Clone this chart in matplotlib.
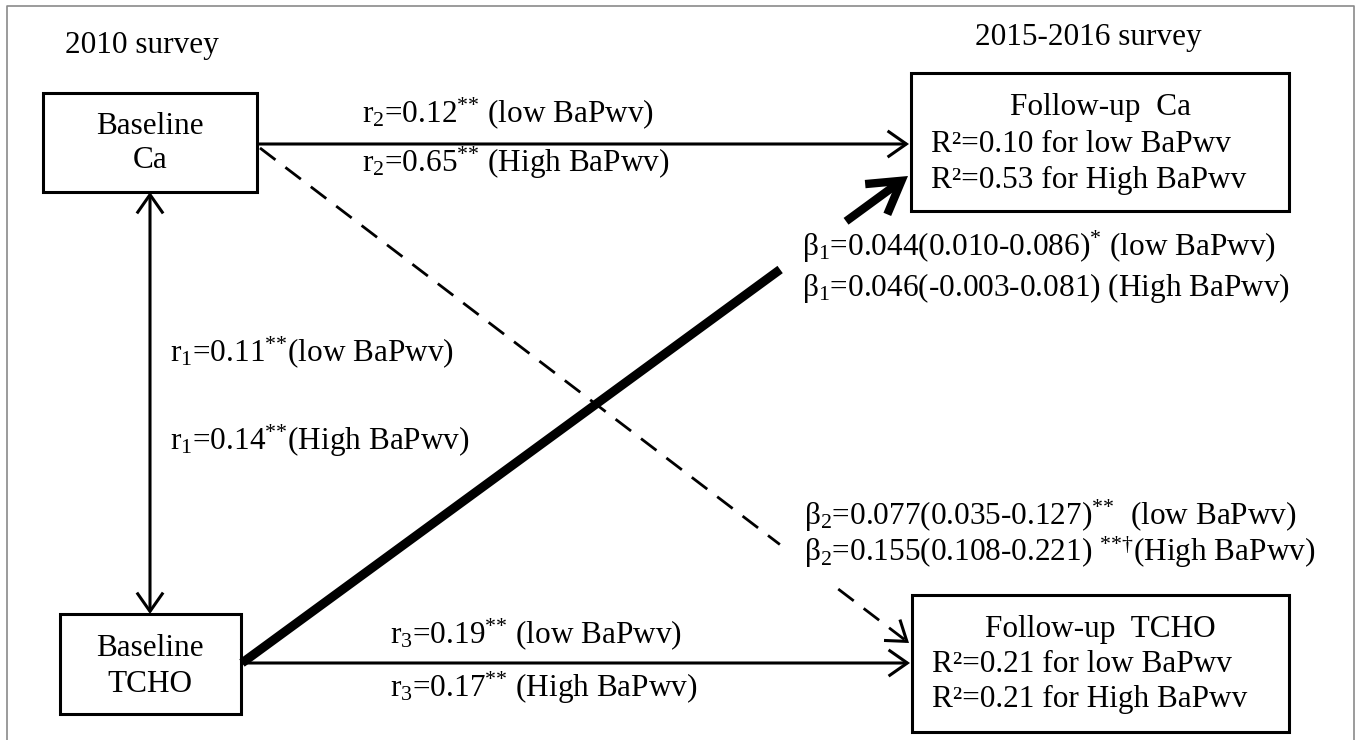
import matplotlib
matplotlib.use("Agg")
import matplotlib.pyplot as plt
from matplotlib.patches import Rectangle, FancyArrowPatch
import numpy as np

# ---- content ----
survey_labels = ["2010 survey", "2015-2016 survey"]
baseline_nodes = ["Baseline\nCa", "Baseline\nTCHO"]
followup_titles = ["Follow-up  Ca", "Follow-up  TCHO"]
followup_r2_low = ["0.10", "0.21"]
followup_r2_high = ["0.53", "0.21"]
r1_values = ["0.11", "0.14"]
r2_values = ["0.12", "0.65"]
r3_values = ["0.19", "0.17"]
beta1_values = ["0.044(0.010-0.086)", "0.046(-0.003-0.081)"]
beta1_sig = ["*", ""]
beta2_values = ["0.077(0.035-0.127)", "0.155(0.108-0.221) "]
beta2_sig = ["**", "**†"]
groups = ["low BaPwv", "High BaPwv"]

plt.rcParams["font.family"] = ["Liberation Serif", "DejaVu Serif"]
plt.rcParams["mathtext.fontset"] = "custom"
plt.rcParams["mathtext.rm"] = "Liberation Serif"
plt.rcParams["mathtext.it"] = "Liberation Serif:italic"
plt.rcParams["mathtext.bf"] = "Liberation Serif:bold"

W, H = 1357, 740
fig = plt.figure(figsize=(W / 100, H / 100), dpi=100)
ax = fig.add_axes([0, 0, 1, 1])
ax.set_xlim(0, W)
ax.set_ylim(H, 0)
ax.axis("off")

FS = 22.5
LW = 2.2

# outer frame
ax.plot([7, 7, 1354, 1354], [745, 6, 6, 745], color="#8a8a8a", lw=1.2)

def box(x0, y0, x1, y1):
    ax.add_patch(Rectangle((x0, y0), x1 - x0, y1 - y0, fill=False, ec="black", lw=LW))

def arrow(p0, p1, style="->", lw=LW, ms=27, hl=0.5, hw=0.35, ls="-"):
    a = FancyArrowPatch(p0, p1, arrowstyle=f"{style},head_length={hl},head_width={hw}",
                        mutation_scale=ms, lw=lw, color="black", shrinkA=0, shrinkB=0,
                        linestyle=ls, joinstyle="miter", capstyle="butt")
    ax.add_patch(a)

def sup(s):
    if s == "":
        return ""
    inner = "".join("{" + (r"\mathrm{" + c + "}") + "}" for c in s)
    return r"$^{" + inner + "}$"

def txt(x, y, s, ha="left"):
    ax.text(x, y, s, fontsize=FS, ha=ha, va="center")

# survey labels
txt(65, 45, survey_labels[0])
txt(975, 37, survey_labels[1])

# baseline boxes
box(43, 93, 257, 192)
box(60, 614, 241, 714)
b0 = baseline_nodes[0].split("\n")
b1 = baseline_nodes[1].split("\n")
txt(150, 126, b0[0], "center")
txt(150, 161, b0[1], "center")
txt(150, 648, b1[0], "center")
txt(150, 685, b1[1], "center")

# follow-up boxes
box(911, 73, 1289, 211)
box(912, 595, 1289, 732)
txt(1100, 107, followup_titles[0], "center")
txt(931, 145, f"R²={followup_r2_low[0]} for {groups[0]}")
txt(931, 180, f"R²={followup_r2_high[0]} for {groups[1]}")
txt(1100, 629, followup_titles[1], "center")
txt(932, 665, f"R²={followup_r2_low[1]} for {groups[0]}")
txt(932, 699, f"R²={followup_r2_high[1]} for {groups[1]}")

# r2 arrow (top)
arrow((257, 144), (909, 144))
txt(362, 113, r"r$_2$=" + r2_values[0] + sup("**") + f" ({groups[0]})")
txt(362, 163, r"r$_2$=" + r2_values[1] + sup("**") + f" ({groups[1]})")

# r3 arrow (bottom)
arrow((241, 663), (910, 663))
txt(390, 634, r"r$_3$=" + r3_values[0] + sup("**") + f" ({groups[0]})")
txt(390, 688, r"r$_3$=" + r3_values[1] + sup("**") + f" ({groups[1]})")

# r1 double arrow
arrow((150, 192), (150, 614), style="<->")
txt(170, 352, r"r$_1$=" + r1_values[0] + sup("**") + f"({groups[0]})")
txt(170, 441, r"r$_1$=" + r1_values[1] + sup("**") + f"({groups[1]})")

# beta1: thick line from Baseline TCHO to Follow-up Ca, interrupted by labels
s0 = np.array([242.0, 663.0]); s1 = np.array([908.0, 176.0])
pa = s0 + 0.808 * (s1 - s0)
pb = s0 + 0.907 * (s1 - s0)
ax.plot([s0[0], pa[0]], [s0[1], pa[1]], color="black", lw=6.5, solid_capstyle="butt")
arrow(tuple(pb), tuple(s1), lw=6.0, ms=30, hl=0.75, hw=0.45)
txt(802, 247, "β" + r"$_1$=" + beta1_values[0] + sup(beta1_sig[0]) + f" ({groups[0]})")
txt(802, 288, "β" + r"$_1$=" + beta1_values[1] + sup(beta1_sig[1]) + f" ({groups[1]})")

# beta2: dashed line from Baseline Ca to Follow-up TCHO, interrupted by labels
d0 = np.array([260.0, 148.0]); d1 = np.array([909.0, 643.0])
qa = d0 + 0.801 * (d1 - d0)
qb = d0 + 0.891 * (d1 - d0)
dash = dict(color="black", lw=2.0, linestyle=(0, (7, 4.5)), dash_capstyle="butt")
ax.plot([d0[0], qa[0]], [d0[1], qa[1]], **dash)
ax.plot([qb[0], d1[0]], [qb[1], d1[1]], **dash)
u = (d1 - d0) / np.linalg.norm(d1 - d0)
arrow(tuple(d1 - 4 * u), tuple(d1))
txt(804, 516, "β" + r"$_2$=" + beta2_values[0] + sup(beta2_sig[0]) + f"  ({groups[0]})")
txt(804, 552, "β" + r"$_2$=" + beta2_values[1] + sup(beta2_sig[1]) + f"({groups[1]})")

fig.savefig("out.png", dpi=100)
